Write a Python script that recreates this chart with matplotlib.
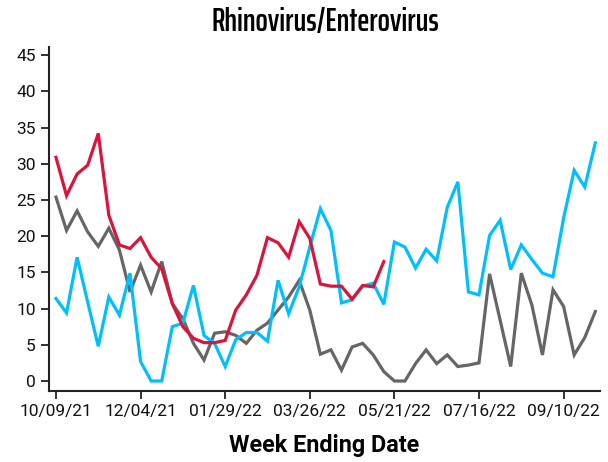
import numpy as np
import pandas as pd
import matplotlib
matplotlib.use("Agg")
import matplotlib.pyplot as plt
import matplotlib.dates as mdates

# weekly values
weeks = pd.date_range("2021-10-09", periods=52, freq="7D")

gray_vals = [25.4, 20.8, 23.5, 20.6, 18.6, 21.1, 18.1, 12.3, 16.0, 12.3,
             16.5, 10.7, 8.6, 5.2, 2.9, 6.6, 6.8, 6.3, 5.2, 7.0,
             8.0, 9.8, 11.6, 13.9, 9.8, 3.7, 4.3, 1.5, 4.7, 5.2,
             3.6, 1.3, 0.0, 0.0, 2.4, 4.3, 2.4, 3.6, 2.0, 2.2,
             2.5, 14.8, 8.4, 2.0, 14.9, 10.5, 3.6, 12.6, 10.3, 3.6,
             6.0, 9.6]

cyan_vals = [11.4, 9.4, 17.1, 10.9, 4.8, 11.6, 9.1, 14.9, 2.7, 0.0,
             0.0, 7.5, 8.0, 13.2, 6.3, 5.2, 2.0, 5.7, 6.7, 6.7,
             5.5, 13.9, 9.3, 13.0, 18.5, 23.8, 20.8, 10.8, 11.2, 13.1,
             13.5, 10.6, 19.2, 18.5, 15.6, 18.2, 16.6, 24.0, 27.5, 12.3,
             11.9, 20.1, 22.2, 15.4, 18.8, 16.8, 14.9, 14.4, 22.5, 29.1,
             26.8, 32.9]

red_vals = [30.9, 25.6, 28.6, 29.8, 34.2, 22.9, 18.8, 18.3, 19.8, 17.1,
            15.5, 10.7, 7.5, 5.9, 5.3, 5.3, 5.6, 9.8, 11.9, 14.6,
            19.8, 19.1, 17.1, 22.0, 19.7, 13.4, 13.1, 13.1, 11.3, 13.2,
            13.0, 16.5]

tick_dates = weeks[::8]
y_ticks = list(range(0, 50, 5))

plt.rcParams['font.family'] = ['Roboto', 'DejaVu Sans']

fig = plt.figure(figsize=(6.08, 4.62), dpi=100)
ax = fig.add_axes([0.0806, 0.1537, 0.906, 0.744])

ax.plot(weeks, gray_vals, color='#666666', lw=2.3, solid_joinstyle='miter')
ax.plot(weeks, cyan_vals, color='#00bfff', lw=2.3, solid_joinstyle='miter')
ax.plot(weeks[:len(red_vals)], red_vals, color='#dc143c', lw=2.3, solid_joinstyle='miter')

ax.set_xlim(weeks[0] - pd.Timedelta(days=4.6), weeks[-1] + pd.Timedelta(days=3))
ax.set_ylim(-1.38, 46.1)
ax.set_yticks(y_ticks)
ax.set_xticks(tick_dates)
ax.xaxis.set_major_formatter(mdates.DateFormatter('%m/%d/%y'))

for s in ['top', 'right']:
    ax.spines[s].set_visible(False)
for s in ['left', 'bottom']:
    ax.spines[s].set_color('#222222')
    ax.spines[s].set_linewidth(1.5)
ax.tick_params(axis='both', colors='#222222', width=1.3, length=6, labelsize=12.5,
               labelcolor='#111111')

ax.set_xlabel('Week Ending Date', fontsize=16.8, fontweight='bold', labelpad=11)
fig.text(0.535, 0.952, 'Rhinovirus/Enterovirus', ha='center', va='center',
         fontsize=23.3, fontweight=600,
         family=['Saira ExtraCondensed', 'DejaVu Sans'])

fig.savefig('out.png', dpi=100)
